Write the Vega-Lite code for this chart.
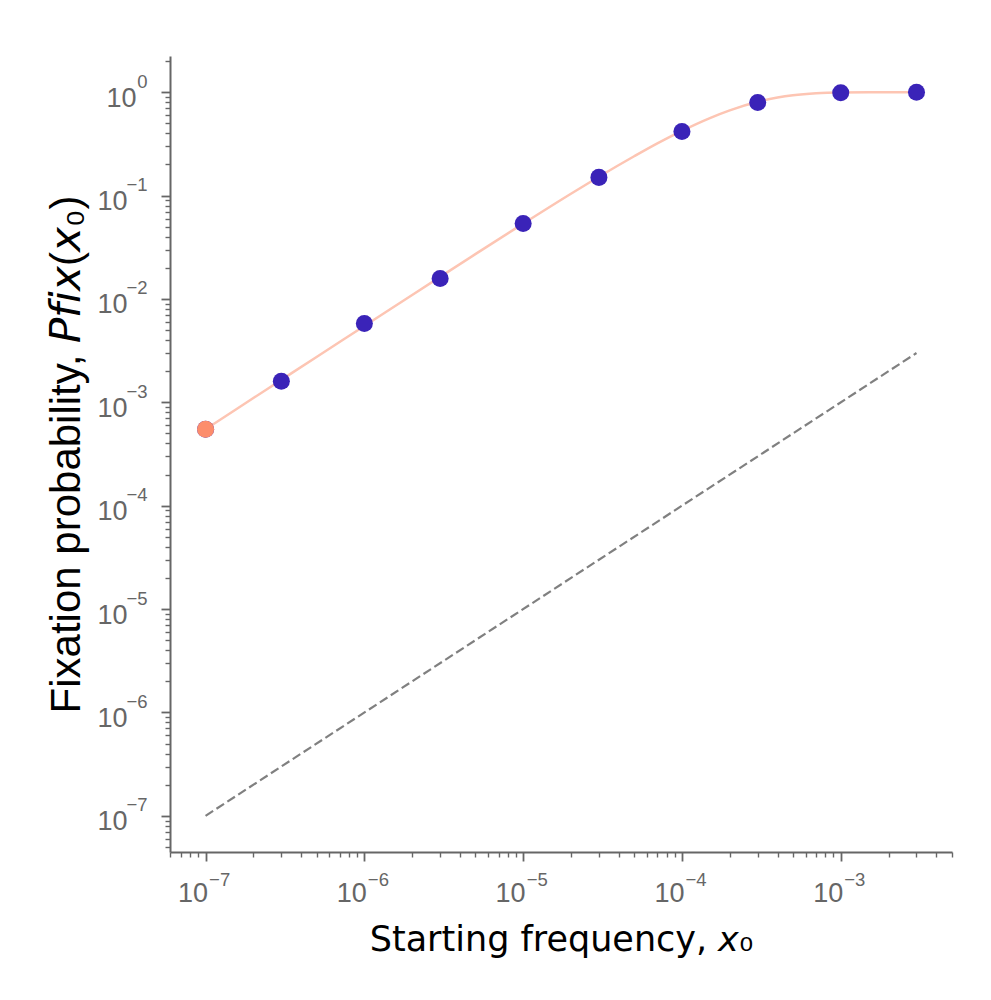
{
  "$schema": "https://vega.github.io/schema/vega-lite/v6.json",
  "width": 782,
  "height": 796,
  "autosize": {"type": "none"},
  "padding": {"left": 170, "top": 56, "right": 39, "bottom": 148},
  "background": "white",
  "config": {"view": {"stroke": null}},
  "datasets": {
    "curve": [
      {"x": 1e-7, "y": 5.5e-4},
      {"x": 2e-7, "y": 1.1e-3},
      {"x": 3e-7, "y": 1.65e-3},
      {"x": 5e-7, "y": 2.75e-3},
      {"x": 1e-6, "y": 5.48e-3},
      {"x": 2e-6, "y": 1.094e-2},
      {"x": 3e-6, "y": 1.637e-2},
      {"x": 5e-6, "y": 2.713e-2},
      {"x": 1e-5, "y": 0.0535},
      {"x": 2e-5, "y": 0.1042},
      {"x": 3e-5, "y": 0.152},
      {"x": 5e-5, "y": 0.24},
      {"x": 7e-5, "y": 0.32},
      {"x": 1e-4, "y": 0.423},
      {"x": 1.5e-4, "y": 0.562},
      {"x": 2e-4, "y": 0.667},
      {"x": 3e-4, "y": 0.808},
      {"x": 4e-4, "y": 0.889},
      {"x": 5e-4, "y": 0.936},
      {"x": 7e-4, "y": 0.979},
      {"x": 1e-3, "y": 0.9959},
      {"x": 1.5e-3, "y": 0.9997},
      {"x": 2e-3, "y": 1.0},
      {"x": 3e-3, "y": 1.0}
    ],
    "diag": [
      {"x": 1e-7, "y": 1e-7},
      {"x": 3e-3, "y": 3e-3}
    ],
    "sim": [
      {"x": 1e-7, "y": 5.5e-4},
      {"x": 3e-7, "y": 1.6e-3},
      {"x": 1e-6, "y": 5.8e-3},
      {"x": 3e-6, "y": 0.0158},
      {"x": 1e-5, "y": 0.0538},
      {"x": 3e-5, "y": 0.15},
      {"x": 1e-4, "y": 0.417},
      {"x": 3e-4, "y": 0.795},
      {"x": 1e-3, "y": 0.99},
      {"x": 3e-3, "y": 1.0}
    ],
    "init": [
      {"x": 1e-7, "y": 5.5e-4}
    ]
  },
  "resolve": {
    "scale": {"x": "shared", "y": "shared"},
    "axis": {"x": "independent", "y": "independent"}
  },
  "layer": [
    {
      "data": {"name": "curve"},
      "mark": {"type": "line", "color": "#fdc5b3", "strokeWidth": 2.5, "interpolate": "monotone"},
      "encoding": {
        "x": {
          "field": "x", "type": "quantitative",
          "scale": {"type": "log", "domain": [5.97e-8, 5.02e-3], "nice": false},
          "axis": {
            "orient": "bottom",
            "title": "Starting frequency, 𝘹₀",
            "values": [1e-7, 1e-6, 1e-5, 1e-4, 1e-3],
            "labelExpr": "'10'",
            "labelOverlap": false, "labelBound": false, "labelFlush": false,
            "grid": false,
            "domainColor": "#666666", "domainWidth": 2,
            "tickColor": "#666666", "tickWidth": 1.8, "tickSize": 9,
            "labelFont": "Liberation Sans", "labelFontSize": 27, "labelColor": "#666666",
            "labelAlign": "right", "labelBaseline": "alphabetic",
            "labelPadding": 40, "labelOffset": 2,
            "titleFont": "DejaVu Sans", "titleFontSize": 35, "titleFontWeight": "normal",
            "titleColor": "black", "titlePadding": 16
          }
        },
        "y": {
          "field": "y", "type": "quantitative",
          "scale": {"type": "log", "domain": [4.47e-8, 2.24], "nice": false},
          "axis": {
            "orient": "left",
            "title": "Fixation probability, 𝘗𝘧𝘪𝘹(𝘹₀)",
            "values": [1e-7, 1e-6, 1e-5, 1e-4, 1e-3, 1e-2, 0.1, 1],
            "labelExpr": "'10'",
            "labelOverlap": false, "labelBound": false, "labelFlush": false,
            "grid": false,
            "domainColor": "#666666", "domainWidth": 2,
            "tickColor": "#666666", "tickWidth": 1.8, "tickSize": 9,
            "labelFont": "Liberation Sans", "labelFontSize": 27, "labelColor": "#666666",
            "labelAlign": "right", "labelBaseline": "alphabetic",
            "labelPadding": {"condition": {"test": "datum.value > 0.5", "value": 25}, "value": 34},
            "labelOffset": 14,
            "titleFont": "Liberation Sans", "titleFontSize": 42, "titleFontWeight": "normal",
            "titleColor": "black", "titlePadding": 8
          }
        }
      }
    },
    {
      "data": {"name": "diag"},
      "mark": {"type": "line", "color": "#808080", "strokeWidth": 2.2, "strokeDash": [9, 4]},
      "encoding": {
        "x": {
          "field": "x", "type": "quantitative",
          "scale": {"type": "log", "domain": [5.97e-8, 5.02e-3], "nice": false},
          "axis": {
            "orient": "bottom",
            "title": null,
            "values": [1e-7, 1e-6, 1e-5, 1e-4, 1e-3],
            "labelExpr": "'−' + substring('0123456789', abs(round(log(datum.value)/LN10)), abs(round(log(datum.value)/LN10)) + 1)",
            "labelOverlap": false, "labelBound": false, "labelFlush": false,
            "grid": false, "domain": false, "ticks": false, "tickSize": 0,
            "labelFont": "Liberation Sans", "labelFontSize": 18.5, "labelColor": "#666666",
            "labelAlign": "left", "labelBaseline": "alphabetic",
            "labelPadding": 33, "labelOffset": 3
          }
        },
        "y": {
          "field": "y", "type": "quantitative",
          "scale": {"type": "log", "domain": [4.47e-8, 2.24], "nice": false},
          "axis": {
            "orient": "left",
            "title": null,
            "values": [1e-7, 1e-6, 1e-5, 1e-4, 1e-3, 1e-2, 0.1, 1],
            "labelExpr": "datum.value > 0.5 ? '0' : '−' + substring('0123456789', abs(round(log(datum.value)/LN10)), abs(round(log(datum.value)/LN10)) + 1)",
            "labelOverlap": false, "labelBound": false, "labelFlush": false,
            "grid": false, "domain": false, "ticks": false, "tickSize": 0,
            "labelFont": "Liberation Sans", "labelFontSize": 18.5, "labelColor": "#666666",
            "labelAlign": "right", "labelBaseline": "alphabetic",
            "labelPadding": 23, "labelOffset": -5
          }
        }
      }
    },
    {
      "data": {"name": "sim"},
      "mark": {"type": "point", "filled": true, "color": "#3a23b8", "opacity": 1, "size": 290},
      "encoding": {
        "x": {
          "field": "x", "type": "quantitative",
          "scale": {"type": "log", "domain": [5.97e-8, 5.02e-3], "nice": false},
          "axis": {
            "orient": "bottom",
            "title": null,
            "values": [6e-8, 7e-8, 8e-8, 9e-8,
              2e-7, 3e-7, 4e-7, 5e-7, 6e-7, 7e-7, 8e-7, 9e-7,
              2e-6, 3e-6, 4e-6, 5e-6, 6e-6, 7e-6, 8e-6, 9e-6,
              2e-5, 3e-5, 4e-5, 5e-5, 6e-5, 7e-5, 8e-5, 9e-5,
              2e-4, 3e-4, 4e-4, 5e-4, 6e-4, 7e-4, 8e-4, 9e-4,
              2e-3, 3e-3, 4e-3, 5e-3],
            "labels": false, "grid": false, "domain": false,
            "tickColor": "#666666", "tickWidth": 1.4, "tickSize": 5
          }
        },
        "y": {
          "field": "y", "type": "quantitative",
          "scale": {"type": "log", "domain": [4.47e-8, 2.24], "nice": false},
          "axis": {
            "orient": "left",
            "title": null,
            "values": [5e-8, 6e-8, 7e-8, 8e-8, 9e-8,
              2e-7, 3e-7, 4e-7, 5e-7, 6e-7, 7e-7, 8e-7, 9e-7,
              2e-6, 3e-6, 4e-6, 5e-6, 6e-6, 7e-6, 8e-6, 9e-6,
              2e-5, 3e-5, 4e-5, 5e-5, 6e-5, 7e-5, 8e-5, 9e-5,
              2e-4, 3e-4, 4e-4, 5e-4, 6e-4, 7e-4, 8e-4, 9e-4,
              2e-3, 3e-3, 4e-3, 5e-3, 6e-3, 7e-3, 8e-3, 9e-3,
              2e-2, 3e-2, 4e-2, 5e-2, 6e-2, 7e-2, 8e-2, 9e-2,
              0.2, 0.3, 0.4, 0.5, 0.6, 0.7, 0.8, 0.9, 2],
            "labels": false, "grid": false, "domain": false,
            "tickColor": "#666666", "tickWidth": 1.4, "tickSize": 5
          }
        }
      }
    },
    {
      "data": {"name": "init"},
      "mark": {"type": "point", "filled": true, "color": "#fc8d6c", "opacity": 1, "size": 290},
      "encoding": {
        "x": {
          "field": "x", "type": "quantitative",
          "scale": {"type": "log", "domain": [5.97e-8, 5.02e-3], "nice": false},
          "axis": null
        },
        "y": {
          "field": "y", "type": "quantitative",
          "scale": {"type": "log", "domain": [4.47e-8, 2.24], "nice": false},
          "axis": null
        }
      }
    }
  ]
}
